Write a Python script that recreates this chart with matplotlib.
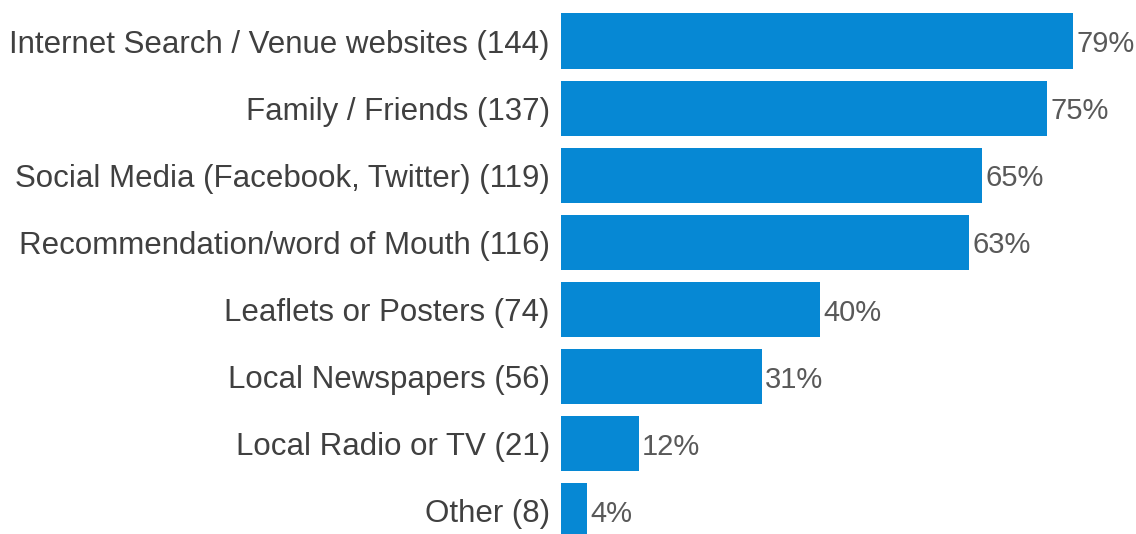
import matplotlib.pyplot as plt

plt.rcParams['font.family'] = ['Liberation Sans', 'DejaVu Sans']

# survey responses: where people hear about events
categories = [
    'Internet Search / Venue websites (144)',
    'Family / Friends (137)',
    'Social Media (Facebook, Twitter) (119)',
    'Recommendation/word of Mouth (116)',
    'Leaflets or Posters (74)',
    'Local Newspapers (56)',
    'Local Radio or TV (21)',
    'Other (8)',
]
percentages = [79, 75, 65, 63, 40, 31, 12, 4]

bar_color = '#0688D4'
label_color = '#404040'
value_color = '#595959'

fig = plt.figure(figsize=(11.36, 5.34), dpi=100)
ax = fig.add_axes([561 / 1136, 0, 1 - 561 / 1136, 1])

y = list(range(len(categories)))
bars = ax.barh(y, percentages, height=0.82, color=bar_color)

for rect, val in zip(bars, percentages):
    ax.annotate(f'{val}%', xy=(rect.get_width(), rect.get_y() + rect.get_height() / 2),
                xytext=(2.5, 0), textcoords='offset points',
                ha='left', va='center_baseline', fontsize=21, color=value_color)

ax.set_yticks(y)
ax.set_yticklabels(categories, fontsize=22.5, color=label_color, va='center_baseline')
ax.tick_params(axis='y', length=0, pad=8)
ax.set_xticks([])
for s in ax.spines.values():
    s.set_visible(False)

ax.set_xlim(0, 575 / 6.48)
ax.set_ylim(7.343, -0.611)

fig.savefig('out.png', dpi=100)
